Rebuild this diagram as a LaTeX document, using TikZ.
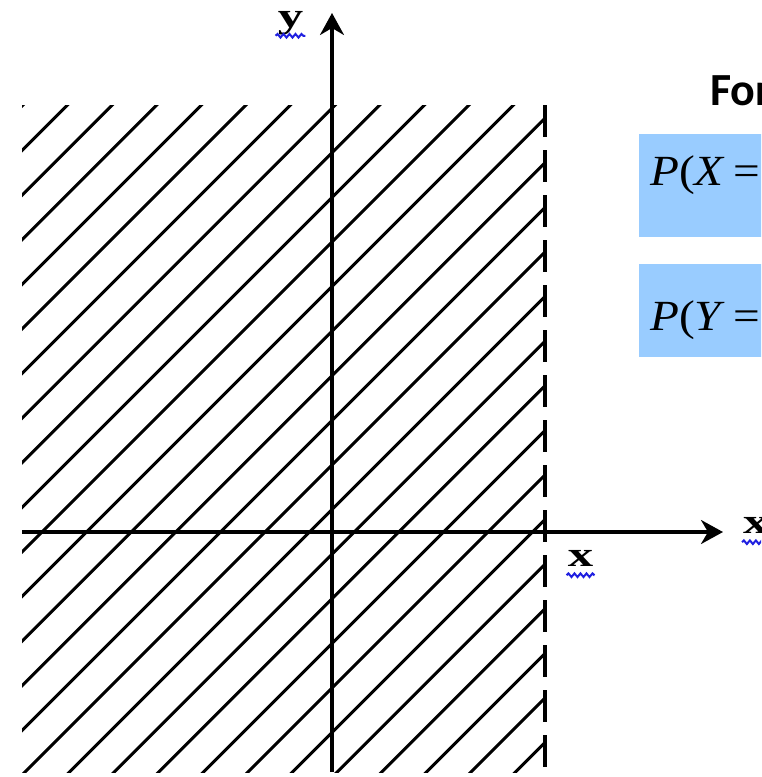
\documentclass[tikz,border=0pt]{standalone}
\usepackage{fontspec}
\setmainfont{Liberation Serif}
\newfontfamily\headfont{Carlito}
\usetikzlibrary{arrows.meta,positioning,decorations.pathmorphing}
\definecolor{boxBlue}{HTML}{99CCFF}
\definecolor{spellBlue}{HTML}{2020E0}

\begin{document}
\begin{tikzpicture}[x=1pt,y=-1pt,>={Stealth[length=22pt,width=24pt,inset=7pt]},
  axis/.style={line width=3.2pt,->},
  hatchline/.style={line width=3pt,line cap=round},
  border/.style={line width=3.5pt,dash pattern=on 32pt off 13pt},
  wavy/.style={spellBlue,line width=2pt,decorate,decoration={snake,amplitude=1.8pt,segment length=6pt}},
  axlabel/.style={font=\fontsize{35}{38}\selectfont\bfseries,inner sep=0pt},
  bluebox/.style={fill=boxBlue,draw=none,anchor=north west,minimum width=140pt,inner sep=0pt},
  formula/.style={font=\fontsize{43}{46}\selectfont,inner sep=0pt,anchor=base west}]
\useasboundingbox (0,0) rectangle (761,777);
\clip (0,0) rectangle (761,777);
% hatched half plane
\begin{scope}
  \clip (22,105) rectangle (545,772);
  \foreach \k in {0,...,26}
    \draw[hatchline] ({128+44.6*\k-800},800) -- ({128+44.6*\k},0);
\end{scope}
\coordinate (btop) at (545,105);
\coordinate (bbot) at (545,772);
\draw[border] (btop) -- (bbot);
% axes
\coordinate (xstart) at (22,532);
\coordinate (xtip) at (723,532);
\coordinate (ystart) at (332,772);
\coordinate (ytip) at (332,13);
\draw[axis] (xstart) -- (xtip);
\draw[axis] (ystart) -- (ytip);
% labels
\node[axlabel,anchor=base] (ylab) at (290.5,27) {\scalebox{1.45}[1]{y}};
\draw[wavy] ([xshift=-2pt,yshift=-1pt]ylab.south west) -- ([xshift=2pt,yshift=-1pt]ylab.south east);
\node[axlabel,anchor=base] (xval) at (580.5,566) {\scalebox{1.45}[1]{x}};
\draw[wavy] ([xshift=-1pt,yshift=-9pt]xval.south west) -- ([xshift=1pt,yshift=-9pt]xval.south east);
\node[axlabel,anchor=base west] (xlab) at (743,533) {\scalebox{1.45}[1]{x}};
\draw[wavy] ([xshift=-1pt,yshift=-9pt]xlab.south west) -- ([xshift=1pt,yshift=-9pt]xlab.south east);
% formula panel
\node[font=\headfont\fontsize{46}{50}\selectfont\bfseries,inner sep=0pt,anchor=base west] (head) at (710,105) {For};
\node[bluebox,minimum height=103pt] (boxX) at (639,134) {};
\node[formula] (pX) at (650,185) {\scalebox{1.1}[1]{\textit{P}(\textit{X}\,=}};
\node[bluebox,minimum height=93pt] (boxY) at (639,264) {};
\node[formula] (pY) at (650,330) {\scalebox{1.1}[1]{\textit{P}(\textit{Y}\,=}};
\end{tikzpicture}
\end{document}
